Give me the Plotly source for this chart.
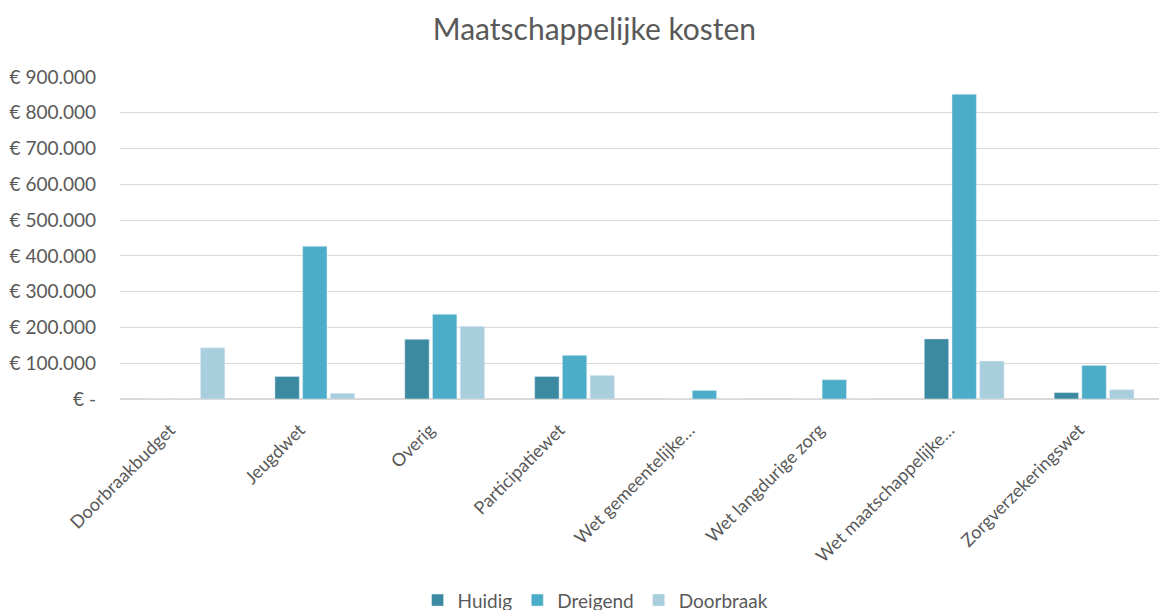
import plotly.graph_objects as go

categories = ["Doorbraakbudget", "Jeugdwet", "Overig", "Participatiewet",
              "Wet gemeentelijke…", "Wet langdurige zorg",
              "Wet maatschappelijke…", "Zorgverzekeringswet"]
huidig = [0, 63000, 167000, 63000, 0, 0, 168000, 18000]
dreigend = [0, 427000, 237000, 122000, 24000, 54000, 852000, 94000]
doorbraak = [143000, 16000, 203000, 66000, 0, 0, 106000, 26000]

y_ticks = [0, 100000, 200000, 300000, 400000, 500000, 600000, 700000, 800000, 900000]
y_labels = ["€ -", "€ 100.000", "€ 200.000", "€ 300.000", "€ 400.000",
            "€ 500.000", "€ 600.000", "€ 700.000", "€ 800.000", "€ 900.000"]

FONT = "Lato, 'Open Sans', sans-serif"
GREY = "#595959"

fig = go.Figure()
fig.add_trace(go.Bar(x=categories, y=huidig, name="Huidig", marker_color="#3B8AA2"))
fig.add_trace(go.Bar(x=categories, y=dreigend, name="Dreigend", marker_color="#4BADC7"))
fig.add_trace(go.Bar(x=categories, y=doorbraak, name="Doorbraak", marker_color="#A9CEDD"))

fig.update_layout(
    title=dict(text="Maatschappelijke kosten", x=0.512, xanchor="center",
               yref="container", y=0.951, yanchor="middle",
               font=dict(size=30, color=GREY, family=FONT)),
    width=1161, height=610,
    margin=dict(l=120, r=2, t=77, b=211, autoexpand=False),
    plot_bgcolor="white", paper_bgcolor="white",
    barmode="group", bargap=0.36, bargroupgap=0.12,
    font=dict(family=FONT, color=GREY, size=18),
    legend=dict(orientation="h", xref="container", x=0.513, xanchor="center",
                yref="container", y=0.016, yanchor="middle",
                font=dict(size=19, color=GREY), itemwidth=30, traceorder="normal"),
)
fig.update_yaxes(range=[0, 900000], tickvals=y_ticks, ticktext=y_labels, automargin=False,
                 gridcolor="#D9D9D9", gridwidth=1, zeroline=True, zerolinecolor="#D9D9D9",
                 ticks="", tickfont=dict(size=19, color=GREY), ticklabelstandoff=23)
fig.update_xaxes(tickangle=-45, tickfont=dict(size=18, color=GREY), showline=False,
                 ticks="", automargin=False, ticklabelshift=-15, ticklabelstandoff=16)

# page body has a default 8px margin; remove it so the figure fills the window
fig.write_html("out.html", config={"displayModeBar": False},
               post_script="document.body.style.margin='0';")
